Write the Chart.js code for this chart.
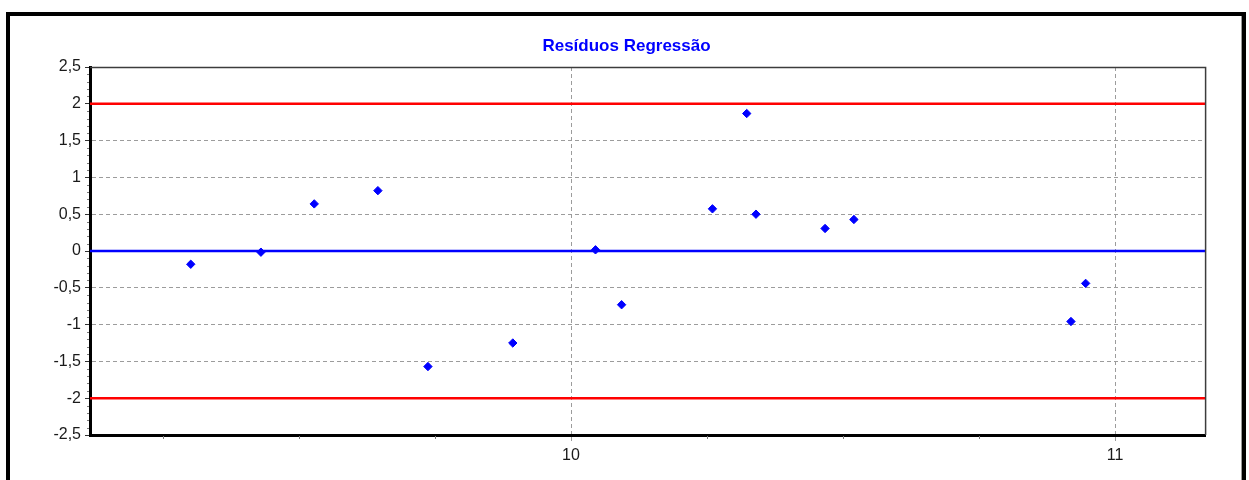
<!DOCTYPE html>
<html>
<head>
<meta charset="utf-8">
<script src="https://cdn.jsdelivr.net/npm/chart.js@4.4.1/dist/chart.umd.min.js"></script>
<style>
  html, body { margin: 0; padding: 0; background: #fff; width: 1249px; height: 480px; overflow: hidden; }
  #frame { position: absolute; left: 6px; top: 12px; width: 1240px; height: 500px; box-sizing: border-box;
           border: 4px solid #000; box-shadow: inset -1px 0 0 #9a9a9a; }
  #wrap { position: absolute; left: 10px; top: 16px; width: 1232px; height: 464px; }
</style>
</head>
<body>
<div id="frame"></div>
<div id="wrap"><canvas id="c" width="1232" height="464"></canvas></div>
<script>
// Fitted values (x) and their regression residuals (y)
const xValues   = [9.301, 9.430, 9.528, 9.645, 9.737, 9.893, 10.045, 10.093, 10.260, 10.323, 10.340, 10.467, 10.520, 10.919, 10.946];
const residuals = [-0.18, -0.016, 0.64, 0.82, -1.57, -1.25, 0.016, -0.73, 0.573, 1.868, 0.50, 0.306, 0.428, -0.958, -0.44];

// Control limits and centre line
const limitUpper = 2;
const limitLower = -2;
const centerLine = 0;

// Axis ranges and ticks
const xRange = [9.1158, 11.1665];
const yRange = [-2.5, 2.5];
const xMajorTicks = [10, 11];
const xMinorTicks = [9.25, 9.5, 9.75, 10.25, 10.5, 10.75];
const yMajorTicks = [-2.5, -2, -1.5, -1, -0.5, 0, 0.5, 1, 1.5, 2, 2.5];
const yMinorStep = 0.1;

const tickFont = { family: "'Liberation Sans', Arial, sans-serif", size: 16 };

// Thin top/right frame of the plot area plus the small minor tick marks
const plotFrame = {
  id: 'plotFrame',
  afterDraw(chart) {
    const { ctx, chartArea: a, scales: { x, y } } = chart;
    ctx.save();
    ctx.strokeStyle = '#3c3c3c';
    ctx.lineWidth = 1.5;
    ctx.beginPath();
    ctx.moveTo(a.left, a.top + 0.5);
    ctx.lineTo(a.right, a.top + 0.5);
    ctx.lineTo(a.right, a.bottom);
    ctx.stroke();

    ctx.strokeStyle = '#7a7a7a';
    ctx.lineWidth = 1;
    ctx.beginPath();
    const n = Math.round((yRange[1] - yRange[0]) / yMinorStep);
    for (let i = 0; i <= n; i++) {
      const v = yRange[0] + i * yMinorStep;
      if (Math.abs(v * 2 - Math.round(v * 2)) < 1e-6) continue;
      const py = Math.round(y.getPixelForValue(v)) + 0.5;
      ctx.moveTo(a.left - 3, py);
      ctx.lineTo(a.left - 1, py);
    }
    xMinorTicks.forEach(v => {
      const px = Math.round(x.getPixelForValue(v)) + 0.5;
      ctx.moveTo(px, a.bottom + 1);
      ctx.lineTo(px, a.bottom + 4);
    });
    ctx.stroke();
    ctx.restore();
  }
};

const refLine = (value, color) => ({
  type: 'line',
  data: [{ x: xRange[0], y: value }, { x: xRange[1], y: value }],
  borderColor: color,
  borderWidth: 2.5,
  pointRadius: 0,
  fill: false,
  order: 2
});

new Chart(document.getElementById('c'), {
  type: 'scatter',
  data: {
    datasets: [
      {
        label: 'Resíduos',
        data: xValues.map((x, i) => ({ x: x, y: residuals[i] })),
        pointStyle: 'rectRot',
        pointRadius: 4.2,
        backgroundColor: '#0000ff',
        borderColor: '#0000ff',
        borderWidth: 1,
        order: 0
      },
      refLine(limitUpper, '#ff0000'),
      refLine(limitLower, '#ff0000'),
      refLine(centerLine, '#0000ff')
    ]
  },
  options: {
    responsive: false,
    animation: false,
    devicePixelRatio: 1,
    layout: { padding: { left: 37.4, right: 36.4, top: 0, bottom: 0 } },
    plugins: {
      legend: { display: false },
      tooltip: { enabled: false },
      title: {
        display: true,
        text: 'Resíduos Regressão',
        color: '#0000ff',
        font: { family: "'Liberation Sans', Arial, sans-serif", size: 17, weight: 'bold' },
        padding: { top: 20, bottom: 10.6 }
      }
    },
    scales: {
      x: {
        type: 'linear',
        min: xRange[0],
        max: xRange[1],
        afterBuildTicks: s => { s.ticks = xMajorTicks.map(v => ({ value: v })); },
        afterFit: s => { s.height = 45; },
        ticks: { font: tickFont, color: '#1a1a1a', padding: 5, maxRotation: 0, callback: v => String(v) },
        grid: {
          color: '#9c9c9c', lineWidth: 1,
          tickColor: '#9c9c9c', tickLength: 6, tickBorderDash: [4, 3]
        },
        border: { color: '#000', width: 3, dash: [4, 3] }
      },
      y: {
        type: 'linear',
        min: yRange[0],
        max: yRange[1],
        afterBuildTicks: s => { s.ticks = yMajorTicks.map(v => ({ value: v })); },
        afterFit: s => { s.width = 42.6; },
        ticks: { font: tickFont, color: '#1a1a1a', padding: 4, callback: v => String(v).replace('.', ',') },
        grid: {
          color: c => (Math.abs(c.tick.value) === 2.5 ? 'rgba(0,0,0,0)' : '#9c9c9c'),
          lineWidth: 1,
          tickColor: '#333', tickLength: 5
        },
        border: { color: '#000', width: 3, dash: [4, 3] }
      }
    }
  },
  plugins: [plotFrame]
});
</script>
</body>
</html>
